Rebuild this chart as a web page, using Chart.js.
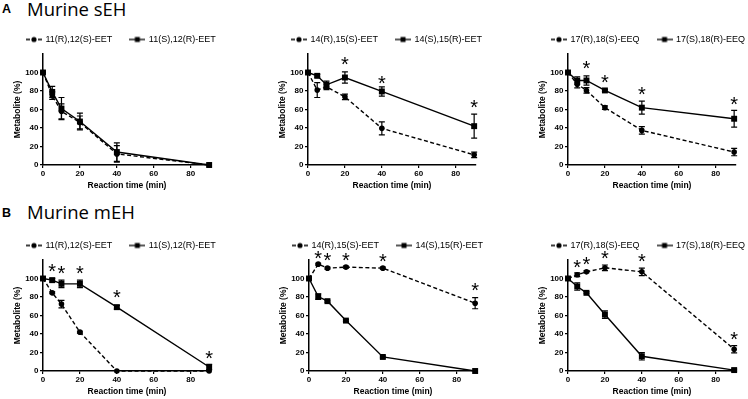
<!DOCTYPE html>
<html><head><meta charset="utf-8">
<script src="https://cdn.jsdelivr.net/npm/chart.js@4.4.0/dist/chart.umd.min.js"></script>
<style>
html,body{margin:0;padding:0;background:#fff;overflow:hidden;width:748px;height:399px;}
.c{position:absolute;}
.lt{position:absolute;font-family:"Liberation Sans",Arial,sans-serif;font-weight:bold;font-size:12.5px;line-height:1;color:#000;}
.tt{position:absolute;font-family:"Open Sans",sans-serif;font-size:18.5px;line-height:1;color:#000;white-space:nowrap;}
</style></head><body>
<div class="lt" style="left:2px;top:3px">A</div>
<div class="tt" style="left:27px;top:0px">Murine sEH</div>
<div class="lt" style="left:2px;top:207px">B</div>
<div class="tt" style="left:27px;top:203px">Murine mEH</div>
<canvas id="a1" class="c" width="250" height="174" style="left:9px;top:17px"></canvas>
<canvas id="a2" class="c" width="250" height="174" style="left:274px;top:17px"></canvas>
<canvas id="a3" class="c" width="250" height="174" style="left:534px;top:17px"></canvas>
<canvas id="b1" class="c" width="250" height="174" style="left:9px;top:223px"></canvas>
<canvas id="b2" class="c" width="250" height="174" style="left:275px;top:223px"></canvas>
<canvas id="b3" class="c" width="250" height="174" style="left:534px;top:223px"></canvas>
<script>
// ---------- data ----------
const times = [0, 5, 10, 20, 40, 90];
const xTickValues = [0, 20, 40, 60, 80];
const yTickValues = [0, 20, 40, 60, 80, 100];
const xAxisTitle = 'Reaction time (min)';
const yAxisTitle = 'Metabolite (%)';

// A: Murine sEH
const a1Labels = ['11(R),12(S)-EET', '11(S),12(R)-EET'];
const a1RS = [100, 75, 58, 46, 12, 0];
const a1RSerr = [0, 4, 8, 7, 9, 0];
const a1SR = [100, 79, 61, 47, 14, 0];
const a1SRerr = [0, 6, 12, 9, 10, 0];
const a1SigTimes = [];
const a1SigY = [];

const a2Labels = ['14(R),15(S)-EET', '14(S),15(R)-EET'];
const a2RS = [100, 81, 84.5, 73.7, 39.6, 11];
const a2RSerr = [0, 8, 3, 3, 7, 3];
const a2SR = [100, 96.4, 86.7, 94.6, 79.5, 42];
const a2SRerr = [0, 1.5, 4, 6, 5, 13];
const a2SigTimes = [20, 40, 90];
const a2SigY = [112, 92, 66];

const a3Labels = ['17(R),18(S)-EEQ', '17(S),18(R)-EEQ'];
const a3RS = [100, 87.4, 80.6, 62, 37.4, 14];
const a3RSerr = [0, 4, 3, 2, 4, 4];
const a3SR = [100, 91.4, 91.4, 80.6, 62, 50];
const a3SRerr = [0, 4, 5, 1, 7, 9];
const a3SigTimes = [10, 20, 40, 90];
const a3SigY = [108.6, 92.5, 80, 69.5];

// B: Murine mEH
const b1Labels = ['11(R),12(S)-EET', '11(S),12(R)-EET'];
const b1RS = [100, 84.5, 72.3, 42, 0, 0];
const b1RSerr = [0, 1, 4, 1, 0, 0];
const b1SR = [100, 98.2, 94.2, 94.2, 69, 4.3];
const b1SRerr = [0, 2, 4, 4, 2, 3];
const b1SigTimes = [5, 10, 20, 40, 90];
const b1SigY = [111.2, 109, 109.4, 82.8, 17.3];

const b2Labels = ['14(R),15(S)-EET', '14(S),15(R)-EET'];
const b2RS = [100, 115.5, 111.2, 112.3, 111.2, 73.3];
const b2RSerr = [0, 1, 1, 1, 1, 6];
const b2SR = [100, 80.5, 75.5, 54.5, 15.2, 0];
const b2SRerr = [0, 3, 1, 1, 1, 0];
const b2SigTimes = [5, 10, 20, 40, 90];
const b2SigY = [125.6, 123.1, 123.1, 122.4, 90.7];

const b3Labels = ['17(R),18(S)-EEQ', '17(S),18(R)-EEQ'];
const b3RS = [100, 104, 107.2, 111.6, 107.2, 23.5];
const b3RSerr = [0, 2, 1, 3, 4, 4];
const b3SR = [100, 91.3, 84.5, 61, 15.9, 1];
const b3SRerr = [0, 4, 1, 4, 4, 1];
const b3SigTimes = [5, 10, 20, 40, 90];
const b3SigY = [115.5, 118.4, 125.6, 122, 37.4];

// ---------- rendering ----------
Chart.defaults.font.family = '"Liberation Sans", Arial, sans-serif';
Chart.defaults.color = '#000';

function legendIcon(dashed) {
  const c = document.createElement('canvas');
  c.width = 16; c.height = 8;
  const g = c.getContext('2d');
  g.strokeStyle = '#000'; g.fillStyle = '#000'; g.lineWidth = 1.3;
  if (dashed) {
    g.beginPath(); g.moveTo(0, 4); g.lineTo(4, 4); g.moveTo(12, 4); g.lineTo(16, 4); g.stroke();
    g.beginPath(); g.arc(8, 4, 2.6, 0, Math.PI * 2); g.fill();
  } else {
    g.beginPath(); g.moveTo(0, 4); g.lineTo(16, 4); g.stroke();
    g.fillRect(5.5, 1.5, 5, 5);
  }
  return c;
}
const icons = [legendIcon(true), legendIcon(false)];

const extrasPlugin = {
  id: 'extras',
  afterDatasetsDraw(chart, args, opts) {
    const { ctx } = chart;
    const xs = chart.scales.x, ys = chart.scales.y;
    ctx.save();
    ctx.strokeStyle = '#000'; ctx.lineWidth = 1.2;
    chart.data.datasets.forEach((ds, di) => {
      ds.data.forEach((p, i) => {
        const e = ds.errors[i];
        if (!e) return;
        const px = xs.getPixelForValue(p.x);
        const top = ys.getPixelForValue(p.y + e);
        const bot = ys.getPixelForValue(p.y - e);
        ctx.beginPath();
        ctx.moveTo(px, top); ctx.lineTo(px, bot);
        ctx.moveTo(px - 3, top); ctx.lineTo(px + 3, top);
        ctx.moveTo(px - 3, bot); ctx.lineTo(px + 3, bot);
        ctx.stroke();
      });
    });
    ctx.fillStyle = '#000';
    ctx.font = '20px "Liberation Sans", Arial, sans-serif';
    ctx.textAlign = 'center';
    ctx.textBaseline = 'alphabetic';
    const m = ctx.measureText('*');
    const shift = (m.actualBoundingBoxAscent - m.actualBoundingBoxDescent) / 2;
    const st = opts.sigTimes || [], sy = opts.sigY || [];
    for (let i = 0; i < st.length; i++) {
      const px = xs.getPixelForValue(st[i]);
      const py = ys.getPixelForValue(sy[i]);
      ctx.fillText('*', px, py + shift);
    }
    ctx.restore();
  }
};

function makePanel(id, labels, rs, rsErr, sr, srErr, sigTimes, sigY) {
  const toPts = arr => times.map((t, i) => ({ x: t, y: arr[i] }));
  new Chart(document.getElementById(id), {
    type: 'line',
    data: {
      datasets: [
        { label: labels[0], data: toPts(rs), errors: rsErr, borderColor: '#000', backgroundColor: '#000',
          borderWidth: 1.4, borderDash: [4, 2.5], pointStyle: 'circle', pointRadius: 2.8,
          pointBorderWidth: 0, tension: 0, clip: false },
        { label: labels[1], data: toPts(sr), errors: srErr, borderColor: '#000', backgroundColor: '#000',
          borderWidth: 1.4, pointStyle: 'rect', pointRadius: 4.2, pointBorderWidth: 0,
          tension: 0, clip: false }
      ]
    },
    options: {
      responsive: false, animation: false, devicePixelRatio: 1,
      layout: { padding: 0 },
      plugins: {
        tooltip: { enabled: false },
        extras: { sigTimes: sigTimes, sigY: sigY },
        legend: {
          display: true, position: 'top', align: 'start',
          labels: {
            usePointStyle: true, pointStyleWidth: 14, padding: 18, color: '#000',
            font: { size: 9 },
            generateLabels(chart) {
              const items = Chart.defaults.plugins.legend.labels.generateLabels(chart);
              items.forEach((it, i) => { it.pointStyle = icons[i]; });
              return items;
            }
          }
        }
      },
      scales: {
        x: {
          type: 'linear', min: 0, max: 91,
          afterBuildTicks(axis) { axis.ticks = xTickValues.map(v => ({ value: v })); },
          afterFit(axis) { axis.height = 26; },
          ticks: { font: { size: 8, weight: 'bold' }, padding: 1, color: '#000', maxRotation: 0 },
          grid: { display: true, drawOnChartArea: false, drawTicks: true, tickLength: 3, color: '#000', lineWidth: 1.2 },
          border: { display: true, color: '#000', width: 1.5 },
          title: { display: true, text: xAxisTitle, color: '#000', font: { size: 8.5, weight: 'bold' }, padding: { top: 0, bottom: 0 } }
        },
        y: {
          type: 'linear', min: 0, max: 120,
          afterBuildTicks(axis) { axis.ticks = yTickValues.map(v => ({ value: v })); },
          afterFit(axis) { axis.width = 34; },
          ticks: { font: { size: 8, weight: 'bold' }, padding: 1.5, color: '#000' },
          grid: { display: true, drawOnChartArea: false, drawTicks: true, tickLength: 3, color: '#000', lineWidth: 1.2 },
          border: { display: true, color: '#000', width: 1.5 },
          title: { display: true, text: yAxisTitle, color: '#000', font: { size: 8.5, weight: 'bold' }, padding: { top: 4, bottom: 0 } }
        },
        spacer: {
          type: 'linear', position: 'right', display: true, min: 0, max: 1,
          afterFit(axis) { axis.width = 48; },
          ticks: { display: false },
          grid: { display: false },
          border: { display: false },
          title: { display: false }
        }
      }
    },
    plugins: [extrasPlugin]
  });
}

makePanel('a1', a1Labels, a1RS, a1RSerr, a1SR, a1SRerr, a1SigTimes, a1SigY);
makePanel('a2', a2Labels, a2RS, a2RSerr, a2SR, a2SRerr, a2SigTimes, a2SigY);
makePanel('a3', a3Labels, a3RS, a3RSerr, a3SR, a3SRerr, a3SigTimes, a3SigY);
makePanel('b1', b1Labels, b1RS, b1RSerr, b1SR, b1SRerr, b1SigTimes, b1SigY);
makePanel('b2', b2Labels, b2RS, b2RSerr, b2SR, b2SRerr, b2SigTimes, b2SigY);
makePanel('b3', b3Labels, b3RS, b3RSerr, b3SR, b3SRerr, b3SigTimes, b3SigY);
</script>
</body></html>
